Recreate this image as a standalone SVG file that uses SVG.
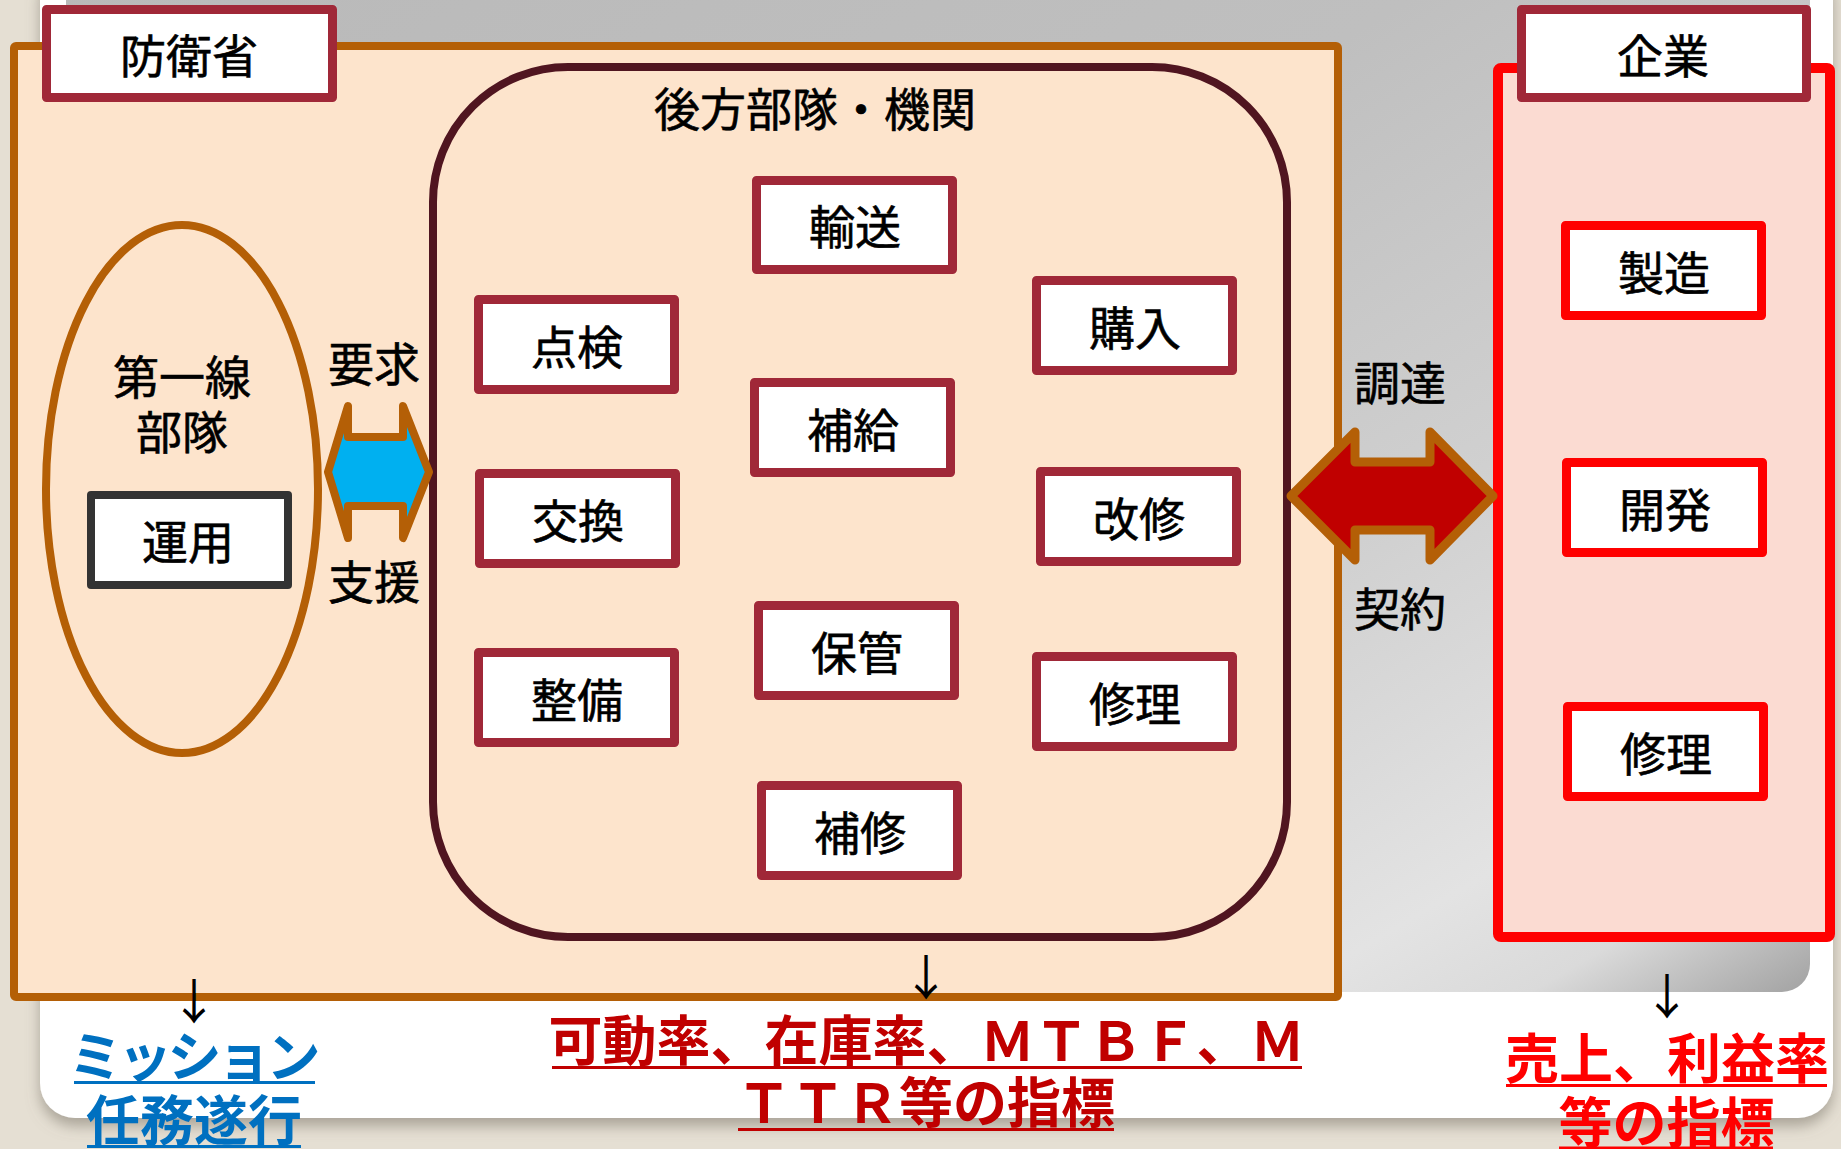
<svg xmlns="http://www.w3.org/2000/svg" width="1841" height="1149" viewBox="0 0 1841 1149">
<defs>
<linearGradient id="gray" x1="0" y1="0" x2="1" y2="1">
<stop offset="0" stop-color="#b9b9b9"/>
<stop offset="0.4" stop-color="#bfbfbf"/>
<stop offset="0.65" stop-color="#d0d0d0"/>
<stop offset="0.85" stop-color="#e3e3e3"/>
<stop offset="0.92" stop-color="#dadada"/>
<stop offset="1" stop-color="#a2a2a2"/>
</linearGradient>
<filter id="shadow" x="-5%" y="-5%" width="110%" height="115%">
<feGaussianBlur in="SourceAlpha" stdDeviation="7"/>
<feOffset dx="0" dy="8" result="b"/>
<feFlood flood-color="#7a7468" flood-opacity="0.55"/>
<feComposite in2="b" operator="in"/>
<feMerge><feMergeNode/><feMergeNode in="SourceGraphic"/></feMerge>
</filter>
<style>
.t{font-family:"Noto Sans CJK JP","Noto Sans CJK SC",sans-serif;font-size:46px;fill:#000;stroke:#000;stroke-width:0.6px;text-anchor:middle}
.b{font-family:"Noto Sans CJK JP","Noto Sans CJK SC",sans-serif;font-size:54px;font-weight:bold;text-anchor:middle}
.box{fill:#fff;stroke:#a02838;stroke-width:9;stroke-linejoin:round}
.rbox{fill:#fff;stroke:#ff0000;stroke-width:9;stroke-linejoin:round}
.arr{font-family:"Noto Sans CJK JP",sans-serif;font-size:48px;fill:#000;text-anchor:middle}
.ul{stroke-width:3}
</style>
</defs>
<rect x="0" y="0" width="1841" height="1149" fill="#e5dfd3"/>
<g id="card">
<rect x="40" y="-40" width="1793" height="1158" rx="35" fill="#ffffff" filter="url(#shadow)"/>
<rect x="66" y="-30" width="1744" height="1022" rx="28" fill="url(#gray)"/>
</g>
<g id="mod-area">
<rect x="14" y="46" width="1324" height="951" rx="2" fill="#fde4cc" stroke="#b45f06" stroke-width="8"/>
</g>
<g id="company-area">
<rect x="1498" y="68" width="332" height="869" rx="3" fill="#fbdbd2" stroke="#ff0000" stroke-width="10"/>
</g>
<g id="logistics">
<rect x="433" y="67" width="854" height="870" rx="135" fill="none" stroke="#501520" stroke-width="8"/>
<text class="t" x="815" y="126">後方部隊・機関</text>
</g>
<g id="frontline">
<ellipse cx="182" cy="489" rx="136" ry="264" fill="none" stroke="#b45f06" stroke-width="8"/>
<text class="t" x="182" y="394">第一線</text>
<text class="t" x="182" y="449">部隊</text>
</g>
<g id="unyo">
<rect x="91" y="495" width="197" height="90" fill="#fff" stroke="#333333" stroke-width="8" stroke-linejoin="round"/>
<text class="t" x="188" y="559">運用</text>
</g>
<g id="boei">
<rect class="box" x="46.5" y="9.5" width="286" height="88"/>
<text class="t" x="189" y="73">防衛省</text>
</g>
<g id="kigyo">
<rect class="box" x="1521.5" y="9.5" width="285" height="88"/>
<text class="t" x="1663" y="73">企業</text>
</g>
<g id="yuso"><rect class="box" x="756.5" y="180.5" width="196" height="89"/><text class="t" x="855" y="244">輸送</text></g>
<g id="tenken"><rect class="box" x="478.5" y="299.5" width="196" height="90"/><text class="t" x="577" y="364">点検</text></g>
<g id="hokyu"><rect class="box" x="754.5" y="382.5" width="196" height="90"/><text class="t" x="853" y="447">補給</text></g>
<g id="kokan"><rect class="box" x="479.5" y="473.5" width="196" height="90"/><text class="t" x="578" y="538">交換</text></g>
<g id="hokan"><rect class="box" x="758.5" y="605.5" width="196" height="90"/><text class="t" x="857" y="670">保管</text></g>
<g id="seibi"><rect class="box" x="478.5" y="652.5" width="196" height="90"/><text class="t" x="577" y="717">整備</text></g>
<g id="hoshu"><rect class="box" x="761.5" y="785.5" width="196" height="90"/><text class="t" x="860" y="850">補修</text></g>
<g id="konyu"><rect class="box" x="1036.5" y="280.5" width="196" height="90"/><text class="t" x="1135" y="345">購入</text></g>
<g id="kaishu"><rect class="box" x="1040.5" y="471.5" width="196" height="90"/><text class="t" x="1139" y="536">改修</text></g>
<g id="shuri"><rect class="box" x="1036.5" y="656.5" width="196" height="90"/><text class="t" x="1135" y="721">修理</text></g>
<g id="seizo"><rect class="rbox" x="1565.5" y="225.5" width="196" height="90"/><text class="t" x="1664" y="290">製造</text></g>
<g id="kaihatsu"><rect class="rbox" x="1566.5" y="462.5" width="196" height="90"/><text class="t" x="1665" y="527">開発</text></g>
<g id="shuri2"><rect class="rbox" x="1567.5" y="706.5" width="196" height="90"/><text class="t" x="1666" y="771">修理</text></g>
<g id="connectors">
<polygon points="328,472 348,406 348,437 403,437 403,406 429,472 403,538 403,506 348,506 348,538" fill="#00b0f0" stroke="#b45f06" stroke-width="8" stroke-linejoin="round"/>
<polygon points="1291,496 1355,432 1355,462 1430,462 1430,432 1493,496 1430,560 1430,530 1355,530 1355,560" fill="#c00000" stroke="#b45f06" stroke-width="9" stroke-linejoin="round"/>
<text class="t" x="374" y="381">要求</text>
<text class="t" x="374" y="599">支援</text>
<text class="t" x="1400" y="400">調達</text>
<text class="t" x="1400" y="626">契約</text>
<text class="arr" x="194" y="1019">↓</text>
<text class="arr" x="926" y="995">↓</text>
<text class="arr" x="1667" y="1014">↓</text>
</g>
<g id="label-mission" fill="#0070c0">
<text class="b" x="194.5" y="1077" textLength="252" lengthAdjust="spacing">ミッション</text>
<text class="b" x="194" y="1141">任務遂行</text>
<line class="ul" x1="74" y1="1082.5" x2="315" y2="1082.5" stroke="#0070c0"/>
<line class="ul" x1="87" y1="1146.5" x2="301" y2="1146.5" stroke="#0070c0"/>
</g>
<g id="label-kpi" fill="#c00000">
<text class="b" x="926.5" y="1061">可動率、在庫率、ＭＴＢＦ、Ｍ</text>
<text class="b" x="926" y="1123">ＴＴＲ等の指標</text>
<line class="ul" x1="552" y1="1067.5" x2="1302" y2="1067.5" stroke="#c00000"/>
<line class="ul" x1="738" y1="1129.5" x2="1114" y2="1129.5" stroke="#c00000"/>
</g>
<g id="label-sales" fill="#ff0000">
<text class="b" x="1667" y="1079">売上、利益率</text>
<text class="b" x="1666.5" y="1143">等の指標</text>
<line class="ul" x1="1506" y1="1085.5" x2="1827" y2="1085.5" stroke="#ff0000"/>
<line class="ul" x1="1559" y1="1148" x2="1773" y2="1148" stroke="#ff0000"/>
</g>
</svg>
